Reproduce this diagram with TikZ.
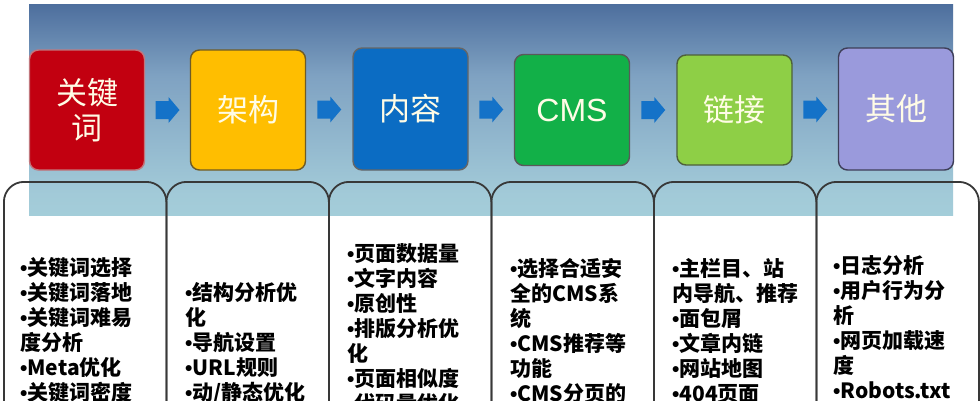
\documentclass[tikz,border=0pt]{standalone}
\usepackage{fontspec}
\newfontfamily\cjk{Noto Sans CJK SC}
\newfontfamily\arialf{Liberation Sans}
\usetikzlibrary{calc}
\definecolor{bgtop}{HTML}{0A1B58}
\definecolor{bgd}{HTML}{33538A}
\definecolor{bgm}{HTML}{7FA2C2}
\definecolor{bgl}{HTML}{A2CAD8}
\definecolor{bgbot}{HTML}{AADCDE}
\definecolor{cred}{HTML}{C20010}
\definecolor{cyel}{HTML}{FFBE00}
\definecolor{cblue}{HTML}{0B6CC3}
\definecolor{cgreen}{HTML}{12B048}
\definecolor{clime}{HTML}{8ECF46}
\definecolor{cpurp}{HTML}{9A9ADC}
\definecolor{arrowblue}{HTML}{1472C8}
\definecolor{titletext}{HTML}{FFFCE6}
\definecolor{boxline}{HTML}{383838}
\newcommand\itembul{{\arialf\bfseries •}}
\pgfdeclareverticalshading{bgshade}{100bp}{color(0bp)=(bgbot); color(30bp)=(bgl); color(58bp)=(bgm); color(84bp)=(bgd); color(100bp)=(bgtop)}
\tikzset{
  topbox/.style={rectangle, rounded corners=9pt, line width=1.4pt, minimum width=115pt,
    inner sep=0pt, align=center, text=titletext,
    font=\cjk\fontsize{31}{35}\selectfont},
  lowbox/.style={rectangle, rounded corners=20pt, draw=boxline, line width=1.8pt,
    minimum width=162.5pt, minimum height=280pt, anchor=north west, inner sep=0pt},
  itemtext/.style={anchor=base west, align=left, inner sep=0pt, text=black,
    font=\cjk\bfseries\fontsize{21}{25}\selectfont},
  blockarrow/.style={fill=arrowblue}
}
\begin{document}
\begin{tikzpicture}[x=1pt,y=-1pt]
\useasboundingbox (0,0) rectangle (980,400);
\fill[white] (0,0) rectangle (980,400);
\shade[shading=bgshade] (29,4) rectangle (953,215);

% top boxes
\node[topbox, fill=cred, draw=cred!55!white!70!gray, minimum height=120pt] (k1) at (87,110) {关键\\词};
\node[topbox, fill=cyel, draw=cyel!40!black!70!gray, minimum height=120pt] (k2) at (248,110) {架构};
\node[topbox, fill=cblue, draw=gray!80!black, minimum height=122pt] (k3) at (410.5,109) {内容};
\node[topbox, fill=cgreen, draw=gray!70!black, minimum height=111pt, font=\arialf\fontsize{32}{36}\selectfont] (k4) at (572,110) {CMS};
\node[topbox, fill=clime, draw=clime!40!black!70!gray, minimum height=110pt] (k5) at (734.5,110) {链接};
\node[topbox, fill=cpurp, draw=cpurp!40!black, minimum height=122pt] (k6) at (896,109) {其他};

% block arrows between boxes
\foreach \a/\b in {k1/k2,k2/k3,k3/k4,k4/k5,k5/k6}{
  \begin{scope}[shift={($(\a.east)!0.5!(\b.west)$)}]
    \fill[blockarrow] (-12,-9) -- (1,-9) -- (1,-13) -- (12,0) -- (1,13) -- (1,9) -- (-12,9) -- cycle;
  \end{scope}
}

% lower boxes
\node[lowbox] (b1) at (3,181) {};
\node[lowbox] (b2) at (165.5,181) {};
\node[lowbox] (b3) at (328,181) {};
\node[lowbox] (b4) at (490.5,181) {};
\node[lowbox] (b5) at (653,181) {};
\node[lowbox] (b6) at (815.5,181) {};

% texts (anchor = baseline of last line)
\node[itemtext] (t1) at (20,400) {\itembul 关键词选择\\\itembul 关键词落地\\\itembul 关键词难易\\度分析\\\itembul Meta优化\\\itembul 关键词密度};
\node[itemtext] (t2) at (185,400) {\itembul 结构分析优\\化\\\itembul 导航设置\\\itembul URL规则\\\itembul 动/静态优化};
\node[itemtext] (t3) at (347,411) {\itembul 页面数据量\\\itembul 文字内容\\\itembul 原创性\\\itembul 排版分析优\\化\\\itembul 页面相似度\\\itembul 代码量优化};
\node[itemtext] (t4) at (510,401) {\itembul 选择合适安\\全的CMS系\\统\\\itembul CMS推荐等\\功能\\\itembul CMS分页的};
\node[itemtext] (t5) at (672,401) {\itembul 主栏目、站\\内导航、推荐\\\itembul 面包屑\\\itembul 文章内链\\\itembul 网站地图\\\itembul 404页面};
\node[itemtext] (t6) at (833,398) {\itembul 日志分析\\\itembul 用户行为分\\析\\\itembul 网页加载速\\度\\\itembul Robots.txt};
\end{tikzpicture}
\end{document}
